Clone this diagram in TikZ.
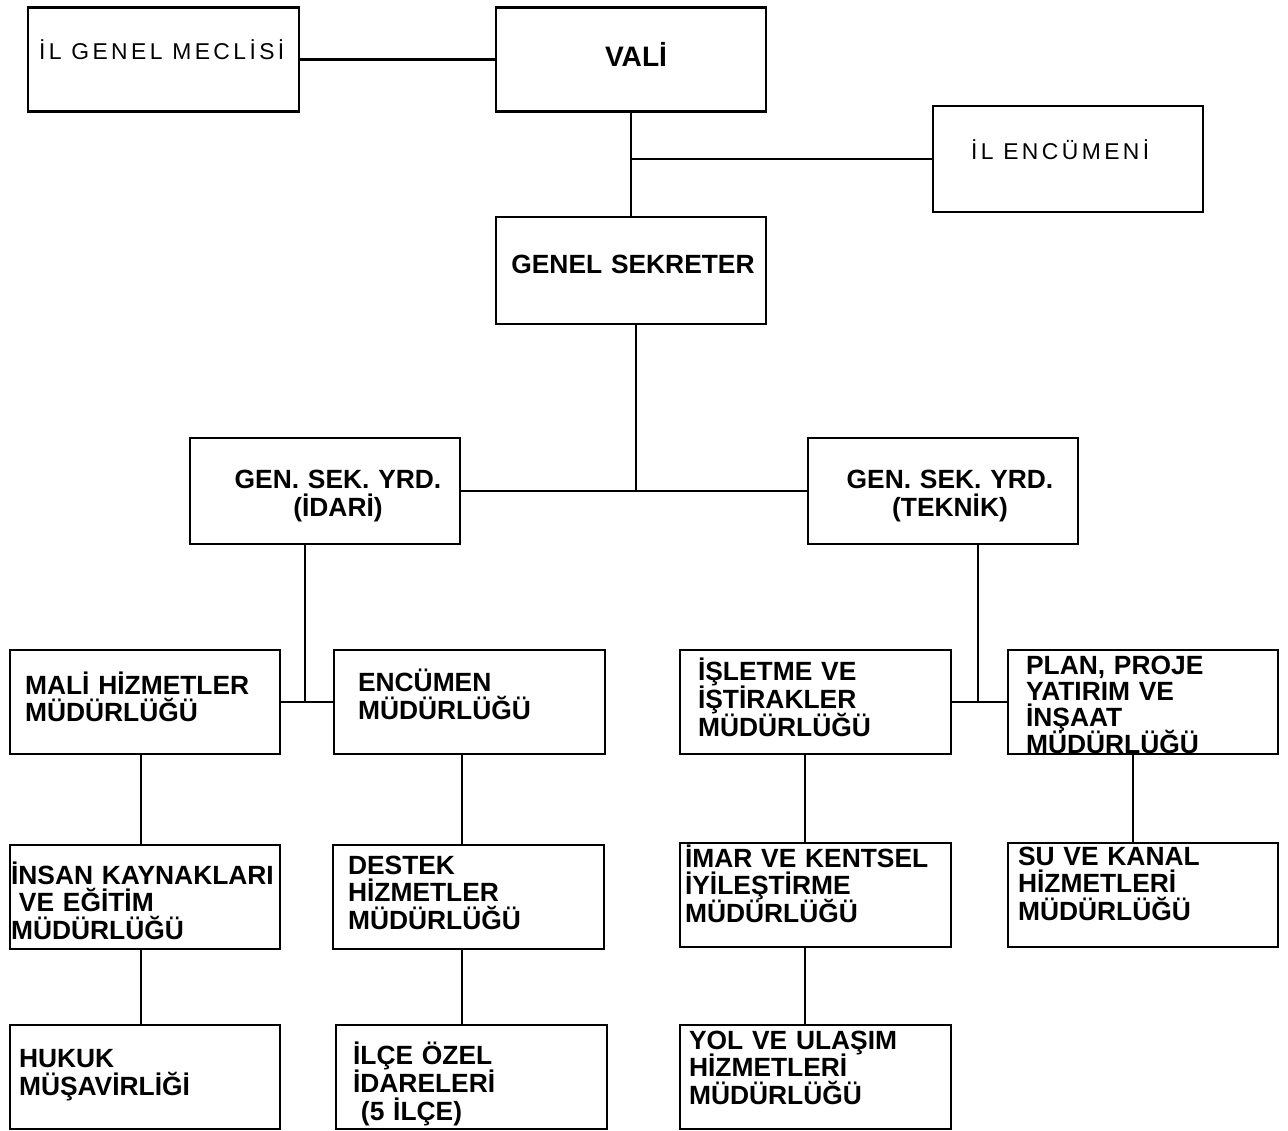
\documentclass[tikz,border=0pt]{standalone}
\usepackage{fontspec}
\setmainfont{Liberation Sans}
\newfontfamily\seyrek[LetterSpace=15]{Liberation Sans}
\newcommand\sikisatir{\lineskiplimit=-20pt\relax\lineskip=0pt\relax}

\begin{document}
\begin{tikzpicture}[x=0.01cm,y=-0.01cm,line width=0.6pt]
\tikzstyle{kutu}=[draw,rectangle,minimum width=2.7cm,minimum height=1.04cm,inner sep=0pt]
\tikzstyle{yazi}=[anchor=base west,inner sep=0pt,text width=2.8cm,align=left,
  font=\bfseries\fontsize{7.5}{7.9}\selectfont\sikisatir]
\tikzstyle{orta}=[yazi,anchor=base,align=center]
\tikzstyle{ince}=[anchor=base west,inner sep=0pt,font=\seyrek\fontsize{6.5}{7.7}\selectfont]
\useasboundingbox (0,0) rectangle (1288,1131);
% kutular
\node [kutu,minimum width=2.71cm] (meclis) at (163.5,59.5) {};
\node [kutu] (vali) at (631,59.5) {};
\node [kutu,minimum height=1.06cm] (encumen) at (1068,159) {};
\node [kutu,minimum height=1.07cm] (gs) at (631,270.5) {};
\node [kutu,minimum height=1.06cm] (idari) at (325,491) {};
\node [kutu,minimum height=1.06cm] (teknik) at (943,491) {};
\node [kutu] (mali) at (145,702) {};
\node [kutu] (encmud) at (469.5,702) {};
\node [kutu] (isletme) at (815.5,702) {};
\node [kutu] (plan) at (1143,702) {};
\node [kutu] (insan) at (145,897) {};
\node [kutu] (destek) at (468.5,897) {};
\node [kutu] (imar) at (815.5,895) {};
\node [kutu] (su) at (1143,895) {};
\node [kutu] (hukuk) at (145,1077) {};
\node [kutu] (ilce) at (471.5,1077) {};
\node [kutu] (yol) at (815.5,1077) {};
% yazilar
\node [ince] (tmeclis) at (38,60) {İL GENEL MECLİSİ};
\node [orta,font=\bfseries\fontsize{8}{8}\selectfont] (tvali) at (636,67) {VALİ};
\node [ince] (tencumen) at (970,160) {İL ENCÜMENİ};
\node [orta] (tgs) at (633,274) {GENEL SEKRETER};
\node [orta] (tidari) at (338,489) {GEN. SEK. YRD.\\(İDARİ)};
\node [orta] (tteknik) at (950,489) {GEN. SEK. YRD.\\(TEKNİK)};
\node [yazi] (tmali) at (24,694) {MALİ HİZMETLER\\MÜDÜRLÜĞÜ};
\node [yazi] (tencmud) at (357,692) {ENCÜMEN\\MÜDÜRLÜĞÜ};
\node [yazi] (tisletme) at (697,681) {İŞLETME VE\\İŞTİRAKLER\\MÜDÜRLÜĞÜ};
\node [yazi,font=\bfseries\fontsize{7.5}{7.5}\selectfont\sikisatir] (tplan) at (1025,674) {PLAN, PROJE\\YATIRIM VE\\İNŞAAT\\MÜDÜRLÜĞÜ};
\node [yazi] (tinsan) at (10,884) {İNSAN KAYNAKLARI\\\hspace{0.3em}VE EĞİTİM\\MÜDÜRLÜĞÜ};
\node [yazi] (tdestek) at (347,874) {DESTEK\\HİZMETLER\\MÜDÜRLÜĞÜ};
\node [yazi] (timar) at (684,867) {İMAR VE KENTSEL\\İYİLEŞTİRME\\MÜDÜRLÜĞÜ};
\node [yazi] (tsu) at (1017,865) {SU VE KANAL\\HİZMETLERİ\\MÜDÜRLÜĞÜ};
\node [yazi,font=\bfseries\fontsize{7.5}{8.2}\selectfont\sikisatir] (thukuk) at (18,1067) {HUKUK\\MÜŞAVİRLİĞİ};
\node [yazi,font=\bfseries\fontsize{7.5}{8.1}\selectfont\sikisatir] (tilce) at (352,1064) {İLÇE ÖZEL\\İDARELERİ\\\hspace{0.3em}(5 İLÇE)};
\node [yazi] (tyol) at (688,1049) {YOL VE ULAŞIM\\HİZMETLERİ\\MÜDÜRLÜĞÜ};
% baglantilar
\coordinate (k0) at (636,491);
\coordinate (k1) at (141,702);
\coordinate (k2) at (462,702);
\coordinate (k3) at (805,702);
\coordinate (k4) at (1133,702);
\coordinate (j1) at (305,702);
\coordinate (j2) at (978,702);
\path (meclis) edge (vali)
      (vali) edge (gs)
      (idari) edge (teknik)
      (mali) edge (encmud)
      (isletme) edge (plan);
\draw (vali.south |- encumen.west) -- (encumen.west);
\draw (gs.south -| k0) -- (k0);
\draw (idari.south -| j1) -- (j1);
\draw (teknik.south -| j2) -- (j2);
\draw (mali.south -| k1) -- (insan.north -| k1);
\draw (insan.south -| k1) -- (hukuk.north -| k1);
\draw (encmud.south -| k2) -- (destek.north -| k2);
\draw (destek.south -| k2) -- (ilce.north -| k2);
\draw (isletme.south -| k3) -- (imar.north -| k3);
\draw (imar.south -| k3) -- (yol.north -| k3);
\draw (plan.south -| k4) -- (su.north -| k4);
\end{tikzpicture}
\end{document}
